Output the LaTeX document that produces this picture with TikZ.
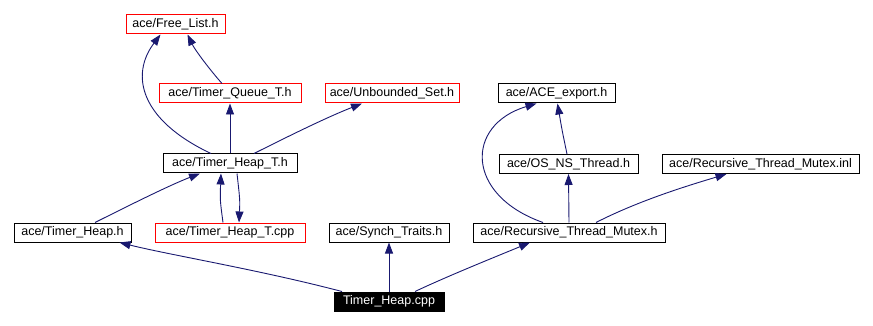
\documentclass[tikz,border=0pt]{standalone}
\usepackage{fontspec}
\setmainfont{Liberation Sans}
\usetikzlibrary{arrows.meta}
\definecolor{edgecol}{RGB}{25,25,112}
\begin{document}
\begin{tikzpicture}[x=1pt,y=-1pt,
  box/.style={draw=black,fill=white,line width=1pt,minimum height=19pt,inner sep=0pt,
    font=\fontsize{12.5}{14}\selectfont,anchor=center},
  redbox/.style={box,draw=red},
  rootbox/.style={box,fill=black,text=white},
  edge/.style={draw=edgecol,line width=0.9pt,-{Triangle[length=11pt,width=8pt]}}]
\useasboundingbox (0,0) rectangle (873,326);
\node[redbox,minimum width=99pt] (FL) at (175.5,24.5) {ace/Free\_List.h};
\node[redbox,minimum width=142pt] (TQ) at (230,93.5) {ace/Timer\_Queue\_T.h};
\node[redbox,minimum width=134pt] (US) at (392,93.5) {ace/Unbounded\_Set.h};
\node[box,minimum width=117pt] (AE) at (556.5,93.5) {ace/ACE\_export.h};
\node[box,minimum width=134pt] (HT) at (230,163.5) {ace/Timer\_Heap\_T.h};
\node[box,minimum width=139pt] (OS) at (568.5,164) {ace/OS\_NS\_Thread.h};
\node[box,minimum width=197pt] (RI) at (760.5,164) {ace/Recursive\_Thread\_Mutex.inl};
\node[box,minimum width=117pt] (TH) at (72.5,232.5) {ace/Timer\_Heap.h};
\node[redbox,minimum width=150pt] (HTC) at (230,232.5) {ace/Timer\_Heap\_T.cpp};
\node[box,minimum width=120pt] (ST) at (389,232.5) {ace/Synch\_Traits.h};
\node[box,minimum width=192pt] (RM) at (569,232.5) {ace/Recursive\_Thread\_Mutex.h};
\node[rootbox,minimum width=110pt] (THC) at (389,301.5) {Timer\_Heap.cpp};

\draw[edge] ([xshift=-47pt]THC.north) .. controls (260,270) and (170,255) .. ([xshift=47pt]TH.south);
\draw[edge] (THC.north) -- (ST.south);
\draw[edge] ([xshift=26pt]THC.north) .. controls (450,275) and (500,255) .. ([xshift=-39pt]RM.south);
\draw[edge] ([xshift=22.5pt]TH.north) .. controls (130,205) and (170,185) .. ([xshift=-30pt]HT.south);
\draw[edge] ([xshift=-7pt]HTC.north) .. controls (220,200) .. ([xshift=-9pt]HT.south);
\draw[edge] ([xshift=7pt]HT.south) .. controls (240,200) .. ([xshift=9pt]HTC.north);
\draw[edge] ([xshift=-19pt]HT.north) .. controls (140,120) and (130,75) .. ([xshift=-15pt]FL.south);
\draw[edge] (HT.north) -- (TQ.south);
\draw[edge] ([xshift=24pt]HT.north) .. controls (285,138) and (325,118) .. ([xshift=-30pt]US.south);
\draw[edge] ([xshift=-8pt]TQ.north) .. controls (210,70) and (195,50) .. ([xshift=12pt]FL.south);
\draw[edge] ([xshift=-26pt]RM.north) .. controls (465,195) and (465,125) .. ([xshift=-20pt]AE.south);
\draw[edge] (RM.north) -- (OS.south);
\draw[edge] ([xshift=27pt]RM.north) .. controls (640,200) and (690,185) .. ([xshift=-34pt]RI.south);
\draw[edge] ([xshift=-1.5pt]OS.north) .. controls (562,130) .. ([xshift=1pt]AE.south);
\end{tikzpicture}
\end{document}
